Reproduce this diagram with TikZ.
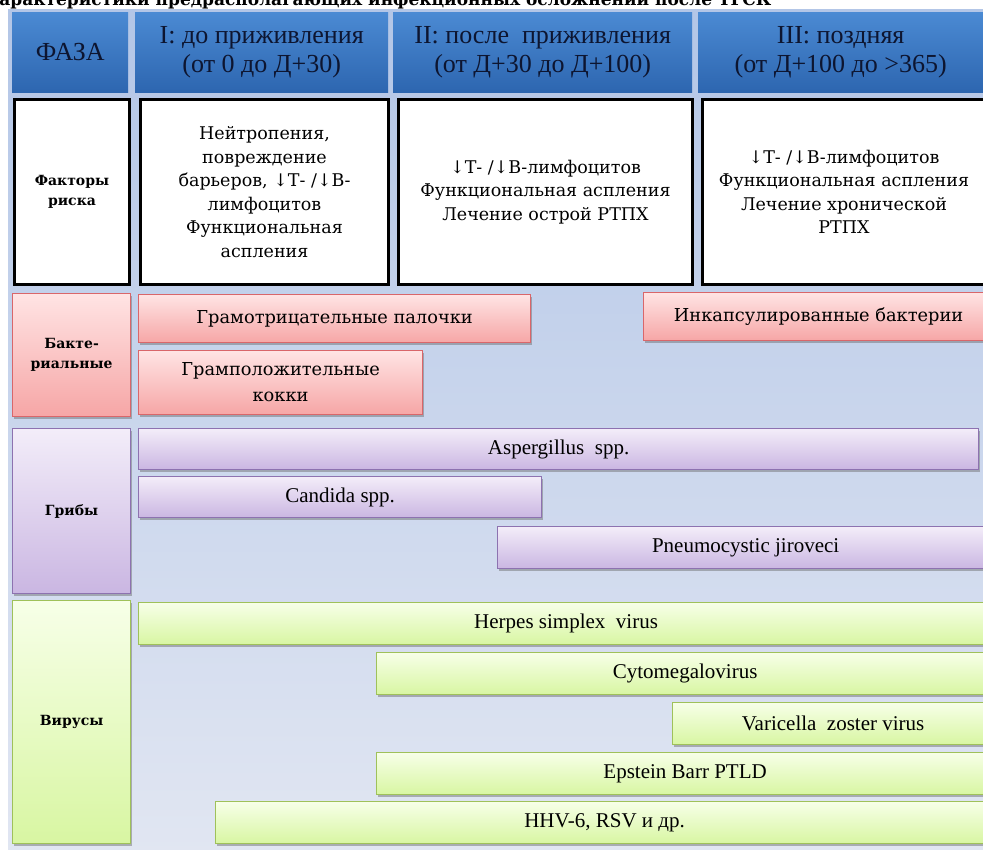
\documentclass[tikz,border=0pt]{standalone}
\usepackage{fontspec}
\setmainfont{Liberation Serif}
\newfontfamily\wideserif{DejaVu Serif}
\usepackage{tikz}
\usetikzlibrary{shadows}

\definecolor{bgtop}{HTML}{B3C6E7}
\definecolor{bgbot}{HTML}{E1E6F2}
\definecolor{phtop}{HTML}{4B8AD3}
\definecolor{phbot}{HTML}{2D66B0}
\definecolor{phtext}{HTML}{0D1530}
\definecolor{bacttop}{HTML}{FFE4E4}
\definecolor{bactbot}{HTML}{F6A6A6}
\definecolor{bactline}{HTML}{D9666A}
\definecolor{fungtop}{HTML}{F3EDF9}
\definecolor{fungbot}{HTML}{CAB6E2}
\definecolor{fungline}{HTML}{8D72B0}
\definecolor{virtop}{HTML}{F7FFE8}
\definecolor{virbot}{HTML}{D8F6A2}
\definecolor{virline}{HTML}{9FC15A}

\newcommand{\tdown}{{\wideserif ↓}}

\tikzset{
  wh/.style 2 args={minimum width=#1pt, minimum height=#2pt},
  cell/.style={anchor=north west, inner sep=0pt, align=center},
  phase/.style={cell, top color=phtop, bottom color=phbot, text=phtext,
    font=\fontsize{26}{29}\selectfont},
  risk/.style={cell, draw=black, line width=3pt, fill=white,
    font=\wideserif\fontsize{17.5}{23.5}\selectfont},
  bar/.style={cell, line width=1.2pt,
    drop shadow={shadow xshift=1.5pt, shadow yshift=-2.5pt, opacity=.45, fill=black!60},
    font=\fontsize{21}{24}\selectfont},
  wbar/.style={bar, font=\wideserif\fontsize{17.8}{26}\selectfont},
  grp/.style={font=\wideserif\bfseries\fontsize{14}{20}\selectfont},
  bact/.style={draw=bactline, top color=bacttop, bottom color=bactbot},
  fung/.style={draw=fungline, top color=fungtop, bottom color=fungbot},
  vir/.style={draw=virline, top color=virtop, bottom color=virbot}
}

\begin{document}
\begin{tikzpicture}[x=1pt, y=-1pt]
  \useasboundingbox (0,0) rectangle (983,850);
  \fill[top color=bgtop, bottom color=bgbot] (8,10) rectangle (990,855);

  % cut title
  \begin{scope}
    \clip (0,0) rectangle (983,11);
    \node[anchor=base west, inner sep=0pt, font=\wideserif\bfseries\fontsize{17}{20}\selectfont]
      (title) at (-14,6) {Характеристики предрасполагающих инфекционных осложнений после ТГСК};
  \end{scope}

  % phases
  \node[phase, wh={116}{80}] (faza) at (12,12) {ФАЗА};
  \node[phase, wh={253}{80}] (ph1) at (135,12) {I: до приживления\\(от 0 до Д+30)};
  \node[phase, wh={299}{80}] (ph2) at (393,12) {II: после\ \ приживления\\(от Д+30 до Д+100)};
  \node[phase, wh={300}{80}] (ph3) at (698,12) {\hspace*{-15pt}III: поздняя\\\hspace*{-15pt}(от Д+100 до >365)};

  % risk factors
  \node[risk, wh={115}{185}, grp] (rf) at (13,98) {Факторы\\риска};
  \node[risk, wh={248}{185}] (rf1) at (139,98)
    {Нейтропения,\\повреждение\\барьеров, \tdown Т- /\tdown В-\\лимфоцитов\\Функциональная\\аспления};
  \node[risk, wh={294}{185}] (rf2) at (397,98)
    {\tdown Т- /\tdown В-лимфоцитов\\Функциональная аспления\\Лечение острой РТПХ};
  \node[risk, wh={300}{185}] (rf3) at (701,98)
    {\hspace*{-17pt}\tdown Т- /\tdown В-лимфоцитов\\\hspace*{-17pt}Функциональная аспления\\\hspace*{-17pt}Лечение хронической\\\hspace*{-17pt}РТПХ};

  % bacterial
  \node[bar, bact, wh={118}{123}, grp] (bac) at (12,293) {Бакте-\\риальные};
  \node[wbar, bact, wh={392}{48}] (gneg) at (138,294) {Грамотрицательные палочки};
  \node[wbar, bact, wh={350}{48}] (encap) at (643,292) {Инкапсулированные бактерии};
  \node[wbar, bact, wh={284}{64}] (gpos) at (138,350) {Грамположительные\\кокки};

  % fungi
  \node[bar, fung, wh={118}{165}, grp] (fun) at (12,428) {Грибы};
  \node[bar, fung, wh={840}{41}] (asp) at (138,428) {Aspergillus\ \ spp.};
  \node[bar, fung, wh={403}{41}] (cand) at (138,476) {Candida spp.};
  \node[bar, fung, wh={496}{42}] (pneu) at (497,526) {Pneumocystic jiroveci};

  % viruses
  \node[bar, vir, wh={118}{243}, grp] (vir) at (12,600) {Вирусы};
  \node[bar, vir, wh={855}{42}] (hsv) at (138,602) {Herpes simplex\ \ virus};
  \node[bar, vir, wh={617}{42}] (cmv) at (376,652) {Cytomegalovirus};
  \node[bar, vir, wh={321}{42}] (vzv) at (672,702) {Varicella\ \ zoster virus};
  \node[bar, vir, wh={617}{42}] (ebv) at (376,752) {Epstein Barr PTLD};
  \node[bar, vir, wh={778}{42}] (hhv) at (215,801) {HHV-6, RSV и др.};
\end{tikzpicture}
\end{document}
